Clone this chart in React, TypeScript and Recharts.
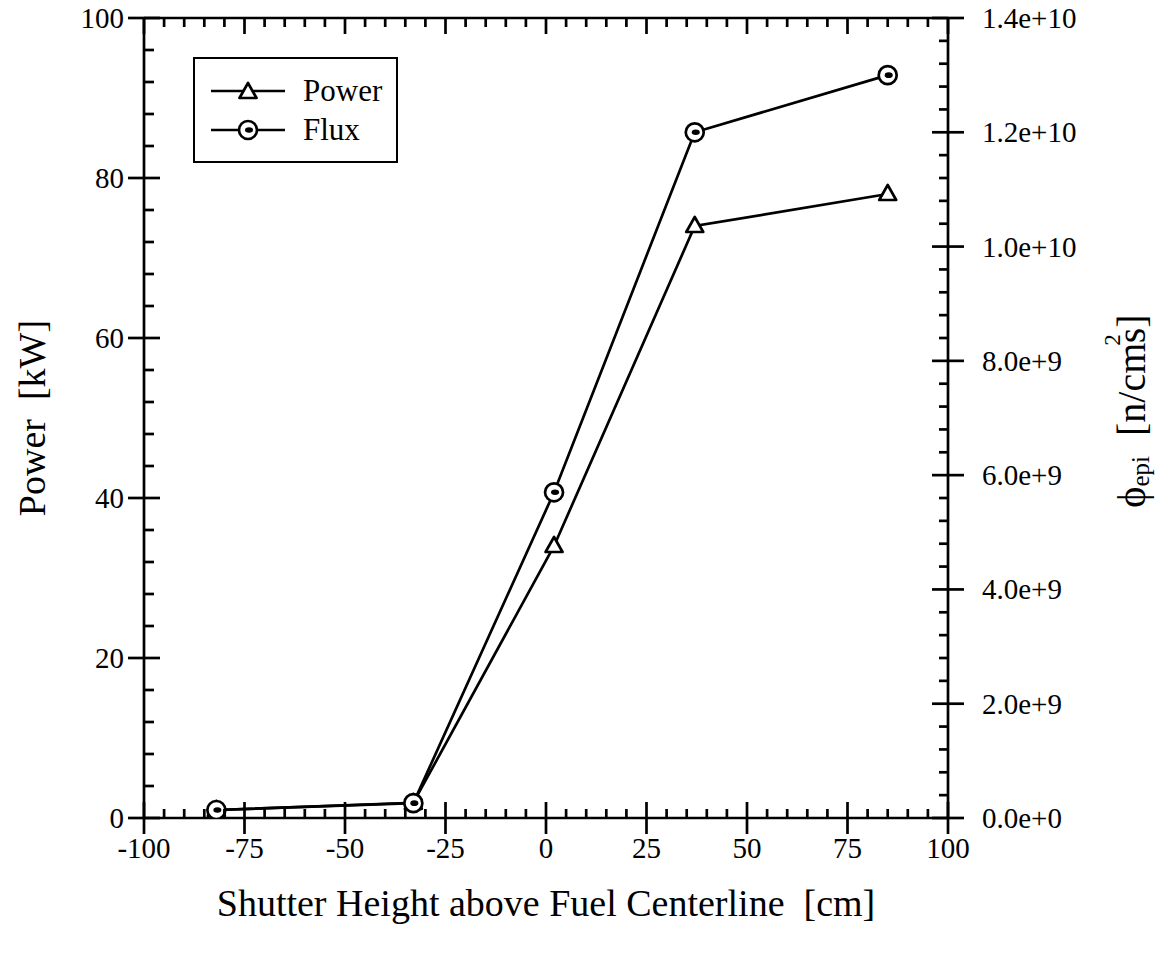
import React from 'react';
import { LineChart, Line, XAxis, YAxis, Legend, Label } from 'recharts';

// ---- data ----
const shutterHeight = [-82, -33, 2, 37, 85];
const powerKW = [1.0, 1.9, 34, 74, 78];
const fluxEpi = [1.4e8, 2.6e8, 5.7e9, 1.2e10, 1.3e10];

// ---- tick values / labels ----
const xMajorTicks = [-100, -75, -50, -25, 0, 25, 50, 75, 100];
const xMajorLabels = ['-100', '-75', '-50', '-25', '0', '25', '50', '75', '100'];
const leftMajorTicks = [0, 20, 40, 60, 80, 100];
const leftMajorLabels = ['0', '20', '40', '60', '80', '100'];
const rightMajorTicks = [0, 2e9, 4e9, 6e9, 8e9, 1e10, 1.2e10, 1.4e10];
const rightMajorLabels = ['0.0e+0', '2.0e+9', '4.0e+9', '6.0e+9', '8.0e+9', '1.0e+10', '1.2e+10', '1.4e+10'];
const legendOrder = ['power', 'flux'];

const xStep = 5;
const leftStep = 4;
const rightStep = 4e8;

const xTicks: number[] = [];
for (let i = 0; i <= 40; i++) xTicks.push(-100 + i * xStep);
const leftTicks: number[] = [];
for (let i = 0; i <= 25; i++) leftTicks.push(i * leftStep);
const rightTicks: number[] = [];
for (let i = 0; i <= 35; i++) rightTicks.push(i * rightStep);

const data = shutterHeight.map((h, i) => ({ h, power: powerKW[i], flux: fluxEpi[i] }));

const FONT = '"Liberation Serif", "Times New Roman", serif';
const TICK_FS = 29;
const TITLE_FS = 38;
const SW = 2.7;

const majorIdx = (v: number, majors: number[], tol: number) =>
  majors.findIndex((m) => Math.abs(m - v) < tol);

const BottomTick = (props: any) => {
  const { x, y, payload } = props;
  const idx = majorIdx(payload.value, xMajorTicks, 0.01);
  if (idx >= 0) {
    return (
      <g>
        <line x1={x} x2={x} y1={y - 16} y2={y + 16} stroke="#000" strokeWidth={SW} />
        <text x={x} y={y + 30} textAnchor="middle" dominantBaseline="central" fontFamily={FONT} fontSize={TICK_FS} fill="#000">
          {xMajorLabels[idx]}
        </text>
      </g>
    );
  }
  return <line x1={x} x2={x} y1={y - 9} y2={y} stroke="#000" strokeWidth={SW} />;
};

const TopTick = (props: any) => {
  const { x, y, payload } = props;
  const idx = majorIdx(payload.value, xMajorTicks, 0.01);
  const len = idx >= 0 ? 16 : 9;
  return <line x1={x} x2={x} y1={y} y2={y + len} stroke="#000" strokeWidth={SW} />;
};

const LeftTick = (props: any) => {
  const { x, y, payload } = props;
  const idx = majorIdx(payload.value, leftMajorTicks, 0.01);
  if (idx >= 0) {
    return (
      <g>
        <line x1={x - 16} x2={x + 16} y1={y} y2={y} stroke="#000" strokeWidth={SW} />
        <text x={x - 20} y={y} textAnchor="end" dominantBaseline="central" fontFamily={FONT} fontSize={TICK_FS} fill="#000">
          {leftMajorLabels[idx]}
        </text>
      </g>
    );
  }
  return <line x1={x} x2={x + 10} y1={y} y2={y} stroke="#000" strokeWidth={SW} />;
};

const RightTick = (props: any) => {
  const { x, y, payload } = props;
  const idx = majorIdx(payload.value, rightMajorTicks, 1e6);
  if (idx >= 0) {
    return (
      <g>
        <line x1={x - 16} x2={x + 16} y1={y} y2={y} stroke="#000" strokeWidth={SW} />
        <text x={x + 34} y={y} textAnchor="start" dominantBaseline="central" fontFamily={FONT} fontSize={TICK_FS} fill="#000">
          {rightMajorLabels[idx]}
        </text>
      </g>
    );
  }
  return <line x1={x - 9} x2={x} y1={y} y2={y} stroke="#000" strokeWidth={SW} />;
};

const TriangleDot = (props: any) => {
  const { cx, cy } = props;
  if (cx == null || cy == null) return null;
  return (
    <polygon
      points={`${cx},${cy - 9} ${cx - 8.5},${cy + 6} ${cx + 8.5},${cy + 6}`}
      fill="#fff"
      stroke="#000"
      strokeWidth={SW}
      strokeLinejoin="round"
    />
  );
};

const FluxDot = (props: any) => {
  const { cx, cy } = props;
  if (cx == null || cy == null) return null;
  return (
    <g>
      <circle cx={cx} cy={cy} r={9} fill="#fff" stroke="#000" strokeWidth={SW} />
      <ellipse cx={cx + 1} cy={cy} rx={4} ry={2.8} fill="#000" />
    </g>
  );
};

const LegendBox = (props: any) => {
  const payload = [...(props.payload || [])].sort(
    (a: any, b: any) => legendOrder.indexOf(a.dataKey) - legendOrder.indexOf(b.dataKey)
  );
  const rows = payload.map((p: any, i: number) => (
    <div key={i} style={{ position: 'absolute', left: 15, top: 16 + i * 39, height: 32, display: 'flex', alignItems: 'center' }}>
      <svg width={76} height={32} style={{ display: 'block' }}>
        <line x1={1} x2={75} y1={16} y2={16} stroke="#000" strokeWidth={SW} />
        {p.dataKey === 'power' ? <TriangleDot cx={38} cy={17} /> : <FluxDot cx={38} cy={16} />}
      </svg>
      <span style={{ marginLeft: 17, fontFamily: FONT, fontSize: 31, lineHeight: '32px', color: '#000' }}>{p.value}</span>
    </div>
  ));
  return (
    <div style={{ position: 'relative', width: 205, height: 106, border: '2.5px solid #000', boxSizing: 'border-box', background: '#fff' }}>
      {rows}
    </div>
  );
};

const LeftTitle = (props: any) => {
  const vb = props.viewBox || { x: 0, y: 0, width: 0, height: 0 };
  const cx = vb.x + vb.width - 112;
  const cy = vb.y + vb.height / 2;
  return (
    <text x={cx} y={cy} transform={`rotate(-90, ${cx}, ${cy})`} textAnchor="middle" dominantBaseline="central" fontFamily={FONT} fontSize={TITLE_FS} fill="#000" xmlSpace="preserve">
      {'Power  [kW]'}
    </text>
  );
};

const RightTitle = (props: any) => {
  const vb = props.viewBox || { x: 0, y: 0, width: 0, height: 0 };
  const cx = vb.x + 183;
  const cy = vb.y + vb.height / 2 - 7;
  return (
    <text x={cx} y={cy} transform={`rotate(-90, ${cx}, ${cy})`} textAnchor="middle" dominantBaseline="central" fontFamily={FONT} fontSize={40} fill="#000" xmlSpace="preserve">
      <tspan>ϕ</tspan>
      <tspan fontSize={25} dy={9}>epi</tspan>
      <tspan dy={-9}>{'  [n/cm'}</tspan>
      <tspan fontSize={23} dy={-19} dx={-3}>2</tspan>
      <tspan dy={19} dx={-9}>s]</tspan>
    </text>
  );
};

const BottomTitle = (props: any) => {
  const vb = props.viewBox || { x: 0, y: 0, width: 0, height: 0 };
  const cx = vb.x + vb.width / 2;
  const cy = vb.y + 85;
  return (
    <text x={cx} y={cy} textAnchor="middle" dominantBaseline="central" fontFamily={FONT} fontSize={TITLE_FS} fill="#000" xmlSpace="preserve">
      {'Shutter Height above Fuel Centerline  [cm]'}
    </text>
  );
};

export default function App() {
  return (
    <div style={{ width: 1168, height: 955, marginTop: -8, marginLeft: -8, background: '#fff' }}>
      <LineChart
        width={1168}
        height={955}
        data={data}
        margin={{ top: 17, right: 219, bottom: 136, left: 143 }}
      >
        <XAxis
          xAxisId="bottom"
          dataKey="h"
          type="number"
          domain={[-100, 100]}
          ticks={xTicks}
          interval={0}
          height={1}
          tickSize={0}
          tickMargin={0}
          tick={<BottomTick />}
          tickLine={false}
          axisLine={{ stroke: '#000', strokeWidth: SW }}
          allowDataOverflow
        >
          <Label content={<BottomTitle />} position="bottom" />
        </XAxis>
        <XAxis
          xAxisId="top"
          orientation="top"
          dataKey="h"
          type="number"
          domain={[-100, 100]}
          ticks={xTicks}
          interval={0}
          height={1}
          tickSize={0}
          tickMargin={0}
          tick={<TopTick />}
          tickLine={false}
          axisLine={{ stroke: '#000', strokeWidth: SW }}
          allowDataOverflow
        />
        <YAxis
          yAxisId="left"
          type="number"
          domain={[0, 100]}
          ticks={leftTicks}
          interval={0}
          width={1}
          tickSize={0}
          tickMargin={0}
          tick={<LeftTick />}
          tickLine={false}
          axisLine={{ stroke: '#000', strokeWidth: SW }}
          allowDataOverflow
        >
          <Label content={<LeftTitle />} position="left" />
        </YAxis>
        <YAxis
          yAxisId="right"
          orientation="right"
          type="number"
          domain={[0, 1.4e10]}
          ticks={rightTicks}
          interval={0}
          width={1}
          tickSize={0}
          tickMargin={0}
          tick={<RightTick />}
          tickLine={false}
          axisLine={{ stroke: '#000', strokeWidth: SW }}
          allowDataOverflow
        >
          <Label content={<RightTitle />} position="right" />
        </YAxis>
        <Legend
          layout="vertical"
          verticalAlign="middle"
          align="center"
          content={<LegendBox />}
          wrapperStyle={{ left: 193, top: 57, width: 205, height: 106 }}
        />
        <Line
          name="Power"
          dataKey="power"
          xAxisId="bottom"
          yAxisId="left"
          stroke="#000"
          strokeWidth={SW}
          dot={<TriangleDot />}
          activeDot={false}
          isAnimationActive={false}
        />
        <Line
          name="Flux"
          dataKey="flux"
          xAxisId="bottom"
          yAxisId="right"
          stroke="#000"
          strokeWidth={SW}
          dot={<FluxDot />}
          activeDot={false}
          isAnimationActive={false}
        />
      </LineChart>
    </div>
  );
}
